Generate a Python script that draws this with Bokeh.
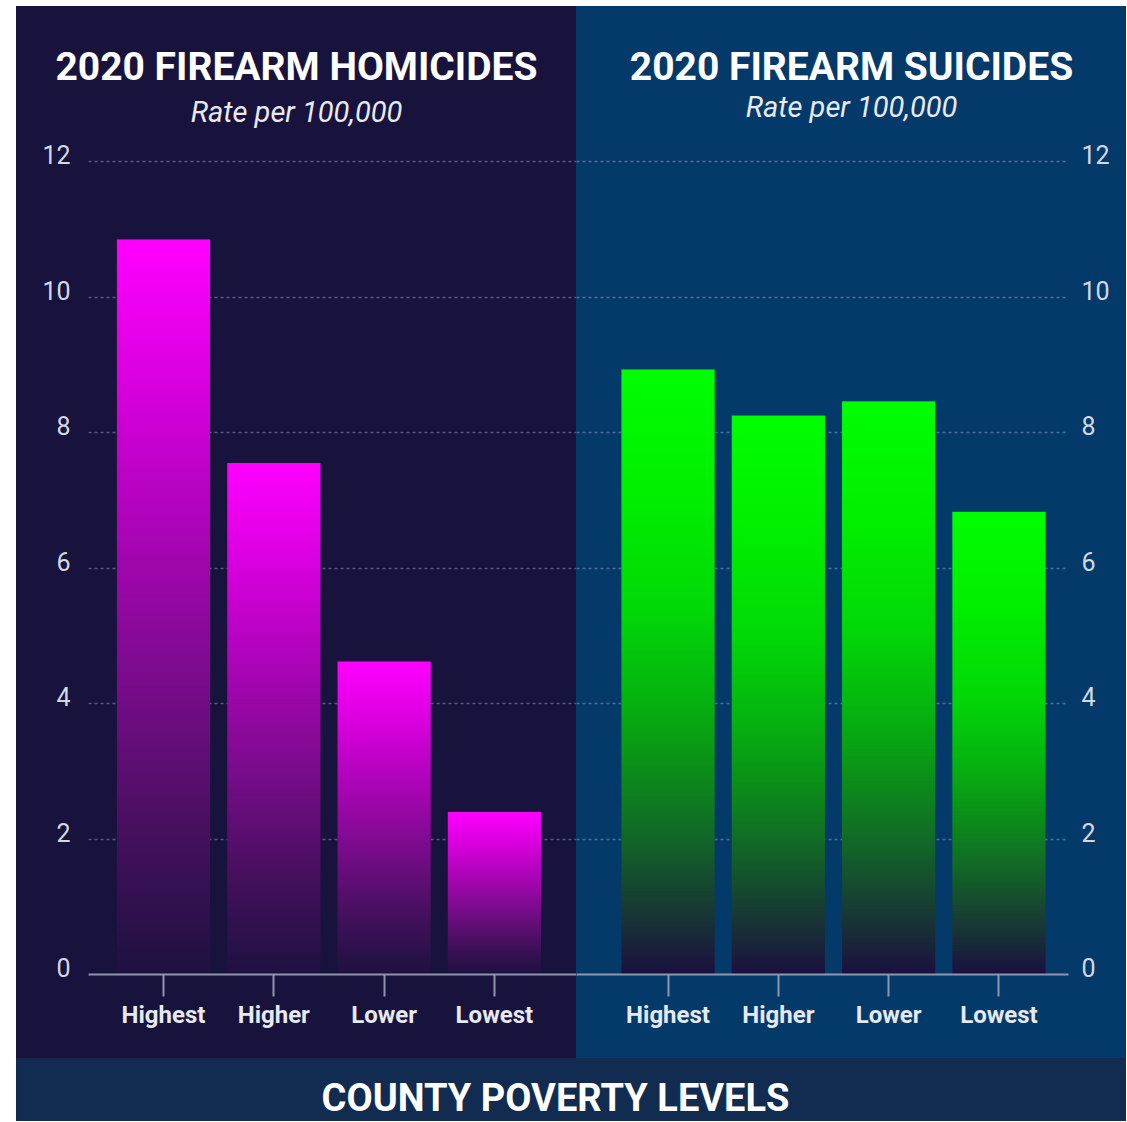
import numpy as np
from bokeh.plotting import figure
from bokeh.models import FixedTicker, Range1d, Spacer, LinearAxis
from bokeh.layouts import row, column
from bokeh.core.properties import value
from bokeh.embed import file_html
from bokeh.resources import INLINE

# ---------------- data ----------------
categories = ["Highest", "Higher", "Lower", "Lowest"]
homicide_rates = [10.85, 7.55, 4.62, 2.40]
suicide_rates = [8.93, 8.25, 8.46, 6.83]
y_ticks = [0, 2, 4, 6, 8, 10, 12]
panel_titles = ["2020 FIREARM HOMICIDES", "2020 FIREARM SUICIDES"]
subtitle = "Rate per 100,000"
bottom_title = "COUNTY POVERTY LEVELS"

# ---------------- style ----------------
FONT = "Roboto"
LEFT_BG = "#18133c"
RIGHT_BG = "#043a6a"
STRIP_BG = "#122b50"
AXIS_COL = "#8d96ad"
GRID_COL = "#8a9ac0"
LABEL_COL = "#e6e9f0"

# gradient stops: t = 0 at bar top, 1 at bar bottom
magenta_stops = [(0.0, (255, 0, 255)), (0.2, (216, 0, 222)), (0.4, (170, 5, 182)),
                 (0.6, (122, 12, 140)), (0.8, (72, 16, 96)), (1.0, (30, 18, 64))]
green_stops = [(0.0, (0, 255, 0)), (0.2, (0, 240, 0)), (0.4, (2, 216, 8)),
               (0.55, (6, 178, 16)), (0.65, (11, 146, 24)), (0.75, (17, 112, 37)),
               (0.85, (22, 74, 48)), (0.95, (26, 37, 58)), (1.0, (26, 16, 64))]


def gradient(stops, rows=300, cols=16):
    img = np.zeros((rows, cols), dtype=np.uint32)
    v = img.view(dtype=np.uint8).reshape((rows, cols, 4))
    ts = np.array([s[0] for s in stops])
    t = 1.0 - np.arange(rows) / (rows - 1)  # row 0 drawn at the bottom
    for ch in range(3):
        vals = np.array([s[1][ch] for s in stops], dtype=float)
        v[:, :, ch] = np.clip(np.interp(t, ts, vals), 0, 255).astype(np.uint8)[:, None]
    v[:, :, 3] = 255
    return img


# ---------------- layout constants (pixels) ----------------
TOP_GAP = 6
LEFT_GAP = 16
HEADER_H = 130
CHART_H = 922
STRIP_H = 63
LEFT_W = 560
RIGHT_W = 550
PX_X = 110.3     # pixels per category step
PX_Y = 67.75     # pixels per rate unit
BAR_W = 0.845
BORDER_BOTTOM = 84
FRAME_H = CHART_H - BORDER_BOTTOM
Y_END = FRAME_H / PX_Y
LABEL_SHIFT = 7 / PX_Y   # tick labels sit slightly above their grid lines


def style_bg(p, bg):
    p.background_fill_color = bg
    p.border_fill_color = bg
    p.outline_line_color = None
    p.styles = {"background-color": bg}


def make_header(width, bg, title, title_y, sub_y):
    h = figure(width=width, height=HEADER_H, output_backend="svg", toolbar_location=None,
               x_range=Range1d(0, width), y_range=Range1d(0, HEADER_H),
               x_axis_type=None, y_axis_type=None, min_border=0, title=None)
    style_bg(h, bg)
    h.grid.grid_line_color = None
    cx = width / 2
    h.text(x=[cx], y=[title_y], text=[title], text_align="center", text_baseline="middle",
           text_font=value(FONT), text_font_style="bold", text_font_size="39px",
           text_color="white")
    h.text(x=[cx], y=[sub_y], text=[subtitle], text_align="center", text_baseline="middle",
           text_font=value(FONT), text_font_style="italic", text_font_size="29px",
           text_color="#e8eaf0")
    return h


def make_chart(values, stops, bg, width, border_left, border_right, x_start,
               y_side, label_standoff):
    frame_w = width - border_left - border_right
    p = figure(width=width, height=CHART_H, output_backend="svg", toolbar_location=None,
               x_range=Range1d(x_start, x_start + frame_w / PX_X),
               y_range=Range1d(0, Y_END), y_axis_location=None,
               min_border_left=border_left, min_border_right=border_right,
               min_border_top=0, min_border_bottom=BORDER_BOTTOM, title=None)
    style_bg(p, bg)

    pos = list(range(len(categories)))
    img = gradient(stops)
    p.image_rgba(image=[img] * len(values),
                 x=[i - BAR_W / 2 for i in pos], y=[0] * len(values),
                 dw=[BAR_W] * len(values), dh=values)

    xa = p.xaxis[0]
    xa.ticker = FixedTicker(ticks=pos)
    xa.major_label_overrides = {i: c for i, c in zip(pos, categories)}
    xa.axis_line_color = AXIS_COL
    xa.axis_line_width = 2
    xa.major_tick_line_color = AXIS_COL
    xa.major_tick_line_width = 2
    xa.major_tick_out = 22
    xa.major_tick_in = 0
    xa.minor_tick_line_color = None
    xa.major_label_standoff = 4
    xa.major_label_text_font = FONT
    xa.major_label_text_font_style = "bold"
    xa.major_label_text_font_size = "24px"
    xa.major_label_text_color = LABEL_COL

    # y axis for the labels, on a range shifted so labels sit just above the grid lines
    p.extra_y_ranges = {"labels": Range1d(-LABEL_SHIFT, Y_END - LABEL_SHIFT)}
    ya = LinearAxis(y_range_name="labels", ticker=FixedTicker(ticks=y_ticks))
    ya.axis_line_color = None
    ya.major_tick_line_color = None
    ya.minor_tick_line_color = None
    ya.major_label_standoff = label_standoff
    ya.major_label_text_font = FONT
    ya.major_label_text_font_size = "25px"
    ya.major_label_text_color = "#d4d8e2"
    p.add_layout(ya, y_side)

    p.xgrid.grid_line_color = None
    p.ygrid.ticker = FixedTicker(ticks=y_ticks)
    p.ygrid.grid_line_color = GRID_COL
    p.ygrid.grid_line_alpha = 0.55
    p.ygrid.grid_line_dash = "3 3"
    p.ygrid.grid_line_width = 1.5
    return p


header_left = make_header(LEFT_W, LEFT_BG, panel_titles[0], 70, 25)
header_right = make_header(RIGHT_W, RIGHT_BG, panel_titles[1], 70, 30)
chart_left = make_chart(homicide_rates, magenta_stops, LEFT_BG, LEFT_W, 72, 0, -0.68,
                        "left", 12)
chart_right = make_chart(suicide_rates, green_stops, RIGHT_BG, RIGHT_W, 0, 58, -0.83,
                         "right", 7)

STRIP_W = LEFT_W + RIGHT_W
strip = figure(width=STRIP_W, height=STRIP_H, output_backend="svg", toolbar_location=None,
               x_range=Range1d(0, STRIP_W), y_range=Range1d(0, STRIP_H),
               x_axis_type=None, y_axis_type=None, min_border=0, title=None)
style_bg(strip, STRIP_BG)
strip.grid.grid_line_color = None
strip.text(x=[539], y=[24], text=[bottom_title], text_align="center",
           text_baseline="middle", text_font=value(FONT), text_font_style="bold",
           text_font_size="38px", text_color="white")

layout = column(
    Spacer(width=LEFT_GAP + STRIP_W, height=TOP_GAP),
    row(Spacer(width=LEFT_GAP, height=HEADER_H), header_left, header_right),
    row(Spacer(width=LEFT_GAP, height=CHART_H), chart_left, chart_right),
    row(Spacer(width=LEFT_GAP, height=STRIP_H), strip),
)

open("out.html", "w").write(file_html(layout, INLINE))
